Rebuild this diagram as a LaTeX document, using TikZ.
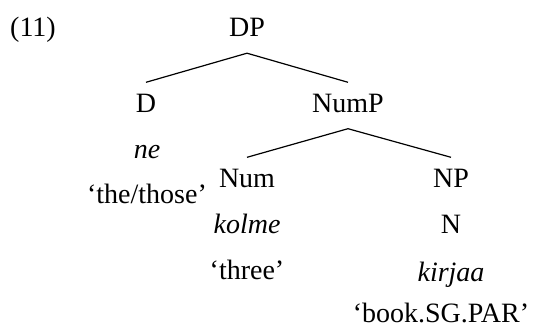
\documentclass[tikz,border=0pt]{standalone}
\usepackage{fontspec}
\setmainfont{Liberation Serif}
\begin{document}
\begin{tikzpicture}[x=1pt,y=-1pt,
    every node/.style={inner sep=0pt, anchor=base, font=\fontsize{28}{32}\selectfont},
    cat/.style={text height=19pt, text depth=5pt, inner ysep=11pt},
    word/.style={font=\fontsize{28}{32}\selectfont\itshape},
    branch/.style={line width=1.2pt}]
  \useasboundingbox (0,0) rectangle (534,329);

  % example number
  \node (ex) at (33,37) {(11)};

  % categories
  \node[cat] (DP)   at (247,37)    {DP};
  \node[cat] (D)    at (146,112.5) {D};
  \node[cat] (NumP) at (348,112.5) {NumP};
  \node[cat] (Num)  at (247,187.5) {Num};
  \node[cat] (NP)   at (451,187.5) {NP};
  \node (N)         at (451,233)   {N};

  % words and glosses
  \node[word] (ne)     at (147,158) {ne};
  \node (glne)         at (147,203) {‘the/those’};
  \node[word] (kolme)  at (247,233) {kolme};
  \node (glkolme)      at (247,279) {‘three’};
  \node[word] (kirjaa) at (451,281) {kirjaa};
  \node (glkirjaa)     at (441,322) {‘book.SG.PAR’};

  % branches
  \draw[branch] (D.north) -- (DP.south) -- (NumP.north);
  \draw[branch] (Num.north) -- (NumP.south) -- (NP.north);
\end{tikzpicture}
\end{document}
